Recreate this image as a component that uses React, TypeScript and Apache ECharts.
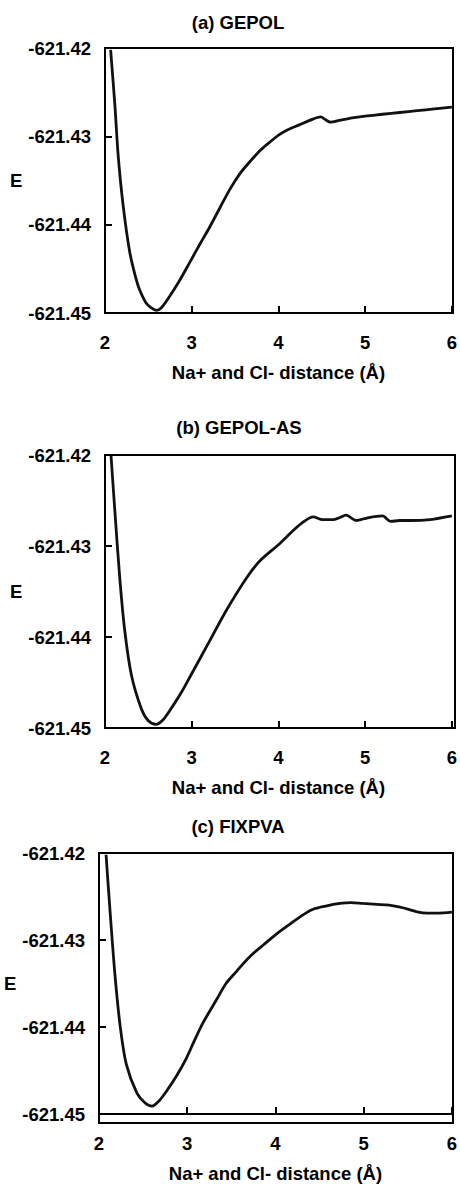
import React, { useEffect, useRef } from "react";
import * as echarts from "echarts";

const panelTitles = ["(a) GEPOL", "(b) GEPOL-AS", "(c) FIXPVA"];
const xAxisName = "Na+ and Cl- distance (Å)";
const yAxisName = "E";
const xTicks = [2, 3, 4, 5, 6];
const yTicks = [-621.45, -621.44, -621.43, -621.42];

const gepolX = [2.065, 2.115, 2.153, 2.21, 2.287, 2.36, 2.40, 2.47, 2.53, 2.594, 2.65, 2.746, 2.85, 2.976, 3.1, 3.2, 3.33, 3.44, 3.55, 3.65, 3.8, 3.92, 4.01, 4.12, 4.24, 4.36, 4.488, 4.54, 4.6, 4.7, 4.85, 5.0, 5.2, 5.4, 5.6, 5.8, 6.0];
const gepolY = [-621.4202, -621.4266, -621.4323, -621.4379, -621.4432, -621.4462, -621.4474, -621.4488, -621.4494, -621.4497, -621.4494, -621.4481, -621.4465, -621.4443, -621.4421, -621.4404, -621.4380, -621.4360, -621.4343, -621.4331, -621.4315, -621.4305, -621.4298, -621.4292, -621.4287, -621.4282, -621.4278, -621.4281, -621.4284, -621.4282, -621.4279, -621.4277, -621.4275, -621.4273, -621.4271, -621.4269, -621.4267];

const gepolAsX = [2.069, 2.114, 2.171, 2.229, 2.305, 2.42, 2.5, 2.59, 2.67, 2.76, 2.88, 2.99, 3.18, 3.41, 3.64, 3.79, 4.02, 4.17, 4.28, 4.4, 4.51, 4.63, 4.7, 4.78, 4.895, 5.03, 5.2, 5.295, 5.4, 5.52, 5.75, 6.0];
const gepolAsY = [-621.4200, -621.4262, -621.4336, -621.4394, -621.4442, -621.4479, -621.4492, -621.4496, -621.4491, -621.4479, -621.4461, -621.4442, -621.4409, -621.4369, -621.4334, -621.4316, -621.4297, -621.4283, -621.4274, -621.4268, -621.4271, -621.4271, -621.4269, -621.4266, -621.4272, -621.4269, -621.4267, -621.4273, -621.4272, -621.4272, -621.4271, -621.4267];

const fixpvaX = [2.08, 2.124, 2.18, 2.24, 2.31, 2.43, 2.52, 2.6, 2.68, 2.77, 2.88, 2.99, 3.08, 3.18, 3.33, 3.44, 3.56, 3.61, 3.72, 3.86, 4.0, 4.16, 4.3, 4.42, 4.57, 4.73, 4.86, 4.99, 5.15, 5.29, 5.4, 5.52, 5.62, 5.72, 5.85, 6.0];
const fixpvaY = [-621.4202, -621.4265, -621.4339, -621.4399, -621.4443, -621.4476, -621.4487, -621.4491, -621.4485, -621.4473, -621.4456, -621.4436, -621.4416, -621.4395, -621.4369, -621.4350, -621.4336, -621.4330, -621.4318, -621.4306, -621.4294, -621.4282, -621.4272, -621.4265, -621.4261, -621.4258, -621.4257, -621.4258, -621.4259, -621.4260, -621.4262, -621.4265, -621.4268, -621.4269, -621.4269, -621.4268];

const seriesX = [gepolX, gepolAsX, fixpvaX];
const seriesY = [gepolY, gepolAsY, fixpvaY];

const FONT = "'Liberation Sans', Arial, sans-serif";
const FS = 18.5;
const LINE = "#000";

export default function App() {
  const ref = useRef<HTMLDivElement>(null);
  useEffect(() => {
    if (!ref.current) return;
    const chart = echarts.init(ref.current, null, { renderer: "svg" });
    const grids = [
      { left: 105, top: 48, width: 348, height: 265 },
      { left: 105, top: 455, width: 350, height: 273 },
      { left: 99, top: 853, width: 354, height: 270 },
    ];
    const titleTops = [13, 418, 817];
    const titleCenters = [238, 239, 238];
    const textStyle = { fontFamily: FONT, fontSize: FS, fontWeight: "bold", color: "#000" };
    const xAxes = grids.map((_, i) => ({
      type: "value",
      gridIndex: i,
      position: "bottom",
      min: xTicks[0],
      max: xTicks[xTicks.length - 1],
      interval: 1,
      name: xAxisName,
      nameLocation: "middle",
      nameGap: 50,
      nameTextStyle: textStyle,
      axisLine: { show: true, onZero: false, lineStyle: { color: LINE, width: 2 } },
      axisTick: { show: true, inside: true, length: 7, lineStyle: { color: LINE, width: 2 } },
      axisLabel: { ...textStyle, margin: 20, formatter: (v: number) => String(v) },
      splitLine: { show: false },
    }));
    const yAxes = grids.map((_, i) => ({
      type: "value",
      gridIndex: i,
      position: "left",
      min: yTicks[0],
      max: yTicks[yTicks.length - 1],
      interval: 0.01,
      name: yAxisName,
      nameLocation: "middle",
      nameRotate: 0,
      nameGap: i === 2 ? 76 : 82,
      nameTextStyle: textStyle,
      axisLine: { show: true, onZero: false, lineStyle: { color: LINE, width: 2 } },
      axisTick: { show: true, inside: true, length: 7, lineStyle: { color: LINE, width: 2 } },
      axisLabel: { ...textStyle, margin: 14, formatter: (v: number) => v.toFixed(2) },
      splitLine: { show: false },
    }));
    const frames = grids.map((g) => ({
      type: "rect",
      silent: true,
      z: 10,
      shape: { x: g.left, y: g.top, width: g.width, height: g.height },
      style: { fill: "none", stroke: LINE, lineWidth: 2 },
    }));
    const option: any = {
      animation: false,
      backgroundColor: "#fff",
      title: panelTitles.map((t, i) => ({
        text: t,
        left: titleCenters[i],
        top: titleTops[i],
        textAlign: "center",
        padding: 0,
        textStyle,
      })),
      grid: grids.map((g) => ({ ...g, containLabel: false })),
      xAxis: xAxes,
      yAxis: yAxes,
      graphic: { elements: frames },
      series: seriesX.map((xs, i) => ({
        type: "line",
        xAxisIndex: i,
        yAxisIndex: i,
        data: xs.map((x, j) => [x, seriesY[i][j]]),
        showSymbol: false,
        symbol: "none",
        smooth: 0.3,
        clip: true,
        lineStyle: { color: "#111", width: 2.8 },
      })),
    };
    chart.setOption(option);
    return () => chart.dispose();
  }, []);
  return (
    <div
      ref={ref}
      style={{ position: "absolute", left: 0, top: 0, width: 460, height: 1184, background: "#fff" }}
    />
  );
}
